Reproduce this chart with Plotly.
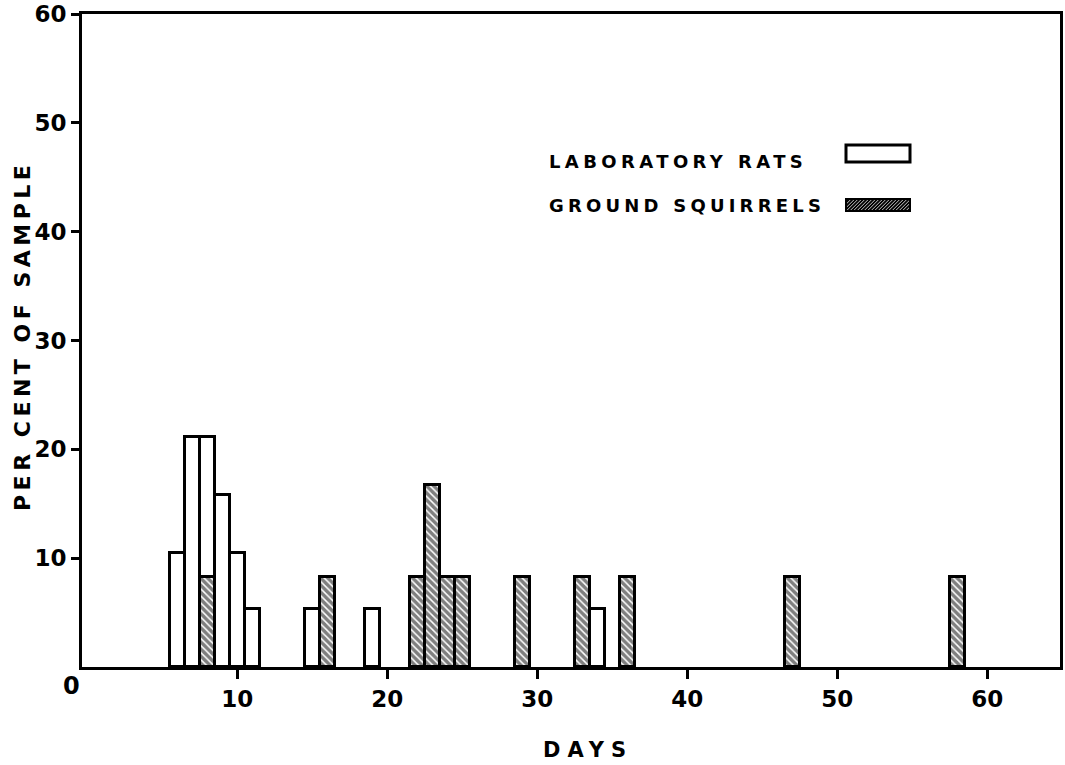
import plotly.graph_objects as go

# ---- data ----
rat_days = [6, 7, 8, 9, 10, 11, 15, 19, 34]
rat_pct = [10.5, 21.1, 21.1, 15.8, 10.5, 5.3, 5.3, 5.3, 5.3]
squirrel_days = [8, 16, 22, 23, 24, 25, 29, 33, 36, 47, 58]
squirrel_pct = [8.3, 8.3, 8.3, 16.7, 8.3, 8.3, 8.3, 8.3, 8.3, 8.3, 8.3]
x_ticks = [10, 20, 30, 40, 50, 60]
y_ticks = [10, 20, 30, 40, 50, 60]

W, H = 1065, 765
L, R, T, B = 82, 1060, 14, 667  # plot area in pixels
FONT = "DejaVu Sans"


def px(x):
    return (x - L) / (R - L)


def py(y):
    return (B - y) / (B - T)


def spaced(text, sp):
    return f'<span style="letter-spacing:{sp}px">{text}</span>'


fig = go.Figure()
fig.add_trace(go.Bar(
    x=rat_days, y=rat_pct, width=1,
    marker=dict(color="white", line=dict(color="black", width=3)),
    showlegend=False,
))
fig.add_trace(go.Bar(
    x=squirrel_days, y=squirrel_pct, width=1,
    marker=dict(color="white", line=dict(color="black", width=3),
                pattern=dict(shape="\\", fgcolor="black", bgcolor="white",
                             size=5, solidity=0.7)),
    showlegend=False,
))

shapes = []
# legend swatch: laboratory rats (open box)
shapes.append(dict(type="rect", xref="paper", yref="paper",
                   x0=px(846), x1=px(910), y0=py(162), y1=py(145),
                   line=dict(color="black", width=3), fillcolor="white"))
# legend swatch: ground squirrels (hatched box)
sx0, sx1, sy0, sy1 = 846, 910, 199, 211
shapes.append(dict(type="rect", xref="paper", yref="paper",
                   x0=px(sx0), x1=px(sx1), y0=py(sy1), y1=py(sy0),
                   line=dict(color="black", width=2), fillcolor="white"))
hh = sy1 - sy0
step = 3.5
start = sx0 - hh
while start < sx1:
    xa, ya = start, sy1
    xb, yb = start + hh, sy0
    if xa < sx0:
        ya = sy1 - (sx0 - xa)
        xa = sx0
    if xb > sx1:
        yb = sy0 + (xb - sx1)
        xb = sx1
    if xb > xa:
        shapes.append(dict(type="line", xref="paper", yref="paper",
                           x0=px(xa), y0=py(ya), x1=px(xb), y1=py(yb),
                           line=dict(color="black", width=1.8)))
    start += step

annotations = [
    dict(text=spaced("LABORATORY RATS", 4.4), x=px(547), y=py(161), xref="paper", yref="paper",
         xanchor="left", yanchor="middle", showarrow=False,
         font=dict(family=FONT, size=18, color="black", weight="bold")),
    dict(text=spaced("GROUND SQUIRRELS", 4.2), x=px(547), y=py(205), xref="paper", yref="paper",
         xanchor="left", yanchor="middle", showarrow=False,
         font=dict(family=FONT, size=18, color="black", weight="bold")),
    dict(text=spaced("PER CENT OF SAMPLE", 4.5), x=px(22), y=py(336), xref="paper", yref="paper",
         textangle=-90, xanchor="center", yanchor="middle", showarrow=False,
         font=dict(family=FONT, size=22, color="black", weight="bold")),
    dict(text=spaced("DAYS", 7), x=px(588), y=py(750), xref="paper", yref="paper",
         xanchor="center", yanchor="middle", showarrow=False,
         font=dict(family=FONT, size=21, color="black", weight="bold")),
    dict(text="0", x=px(71), y=py(686), xref="paper", yref="paper",
         xanchor="center", yanchor="middle", showarrow=False,
         font=dict(family=FONT, size=24, color="black", weight="bold")),
]

fig.update_layout(
    width=W, height=H,
    margin=dict(l=L, r=W - R, t=T, b=H - B, pad=0, autoexpand=False),
    paper_bgcolor="white", plot_bgcolor="white",
    barmode="overlay", bargap=0,
    shapes=shapes, annotations=annotations,
    xaxis=dict(range=[-0.35, 64.85], tickvals=x_ticks, ticks="outside", ticklen=9,
               tickwidth=2.5, tickcolor="black", showgrid=False, zeroline=False,
               showline=True, linecolor="black", linewidth=3, mirror=True,
               ticklabeloverflow="allow", automargin=False,
               tickfont=dict(family=FONT, size=23, color="black", weight="bold")),
    yaxis=dict(range=[0, 60], tickvals=y_ticks, ticks="outside", ticklen=8,
               tickwidth=2.5, tickcolor="black", showgrid=False, zeroline=False,
               showline=True, linecolor="black", linewidth=3, mirror=True,
               ticklabeloverflow="allow", automargin=False,
               tickfont=dict(family=FONT, size=23, color="black", weight="bold")),
)

fig.write_html("out.html", config={"displayModeBar": False},
               post_script="document.body.style.margin='0';")
